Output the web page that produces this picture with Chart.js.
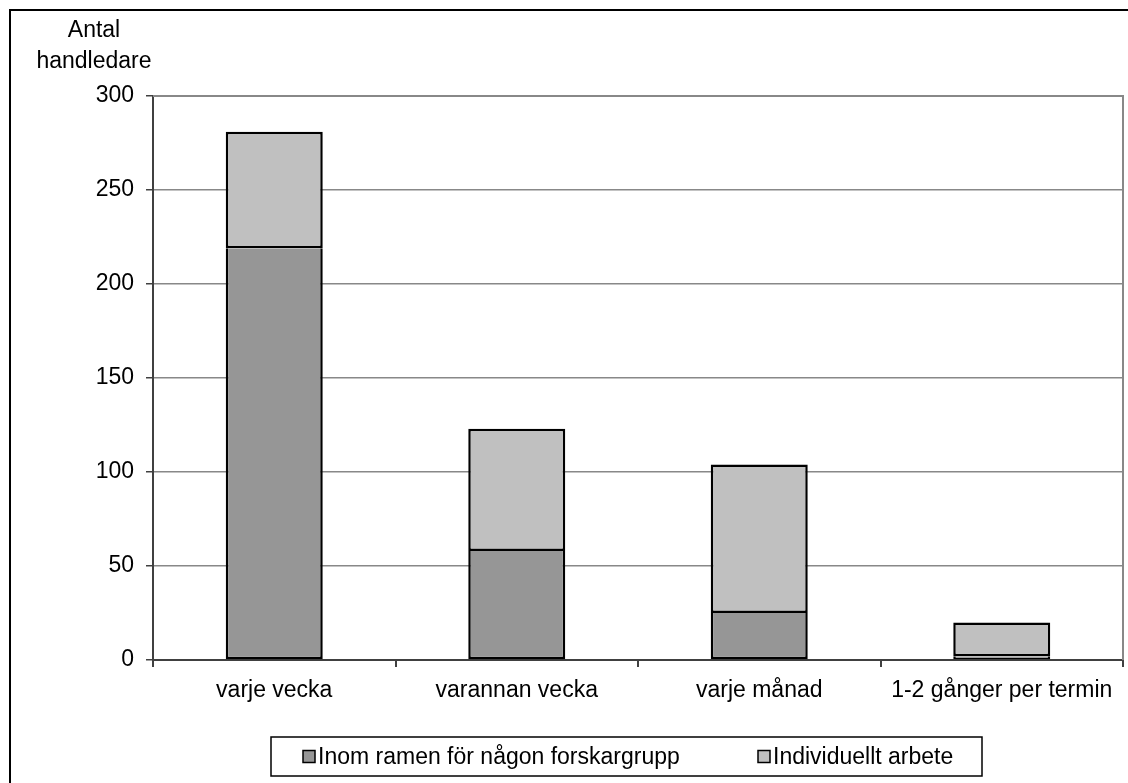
<!DOCTYPE html>
<html>
<head>
<meta charset="utf-8">
<script src="https://cdn.jsdelivr.net/npm/chart.js@4/dist/chart.umd.min.js"></script>
<style>
  html, body { margin: 0; padding: 0; background: #fff; }
  #wrap { position: absolute; left: 0; top: 0; width: 1128px; height: 783px; }
</style>
</head>
<body>
<div id="wrap"><canvas id="chart" width="1128" height="783"></canvas></div>
<script>
const categories = ["varje vecka", "varannan vecka", "varje månad", "1-2 gånger per termin"];
const forskargrupp = [219, 58, 25, 2];
const individuellt = [62, 65, 79, 18];
const seriesLabels = ["Inom ramen för någon forskargrupp", "Individuellt arbete"];
const yTitle = ["Antal", "handledare"];

const FONT = "'Liberation Sans', Arial, sans-serif";

// frame, plot border, y title and the boxed legend
const extras = {
  id: "extras",
  afterDraw(chart) {
    const ctx = chart.ctx;
    const a = chart.chartArea;
    ctx.save();

    // plot area top/right border
    ctx.strokeStyle = "#888";
    ctx.lineWidth = 2;
    ctx.beginPath();
    ctx.moveTo(a.left, a.top);
    ctx.lineTo(a.right, a.top);
    ctx.lineTo(a.right, a.bottom);
    ctx.stroke();

    // outer frame
    ctx.strokeStyle = "#000";
    ctx.lineWidth = 2;
    ctx.beginPath();
    ctx.moveTo(10, 783);
    ctx.lineTo(10, 10);
    ctx.lineTo(1128, 10);
    ctx.stroke();

    // axis title
    ctx.fillStyle = "#000";
    ctx.font = "23px " + FONT;
    ctx.textAlign = "center";
    ctx.textBaseline = "alphabetic";
    ctx.fillText(yTitle[0], 94, 37);
    ctx.fillText(yTitle[1], 94, 68);

    // legend
    const lx = 271, ly = 737, lw = 711, lh = 39;
    ctx.fillStyle = "#fff";
    ctx.fillRect(lx, ly, lw, lh);
    ctx.strokeStyle = "#000";
    ctx.lineWidth = 1.5;
    ctx.strokeRect(lx, ly, lw, lh);
    ctx.textAlign = "left";
    ctx.textBaseline = "middle";
    const starts = [303, 758];
    chart.data.datasets.forEach((ds, i) => {
      const x = starts[i];
      const cy = ly + lh / 2;
      ctx.fillStyle = ds.backgroundColor;
      ctx.fillRect(x, cy - 6, 12, 12);
      ctx.strokeStyle = "#000";
      ctx.lineWidth = 1.5;
      ctx.strokeRect(x, cy - 6, 12, 12);
      ctx.fillStyle = "#000";
      ctx.fillText(ds.label, x + 15, cy + 1);
    });
    ctx.restore();
  }
};

const ctx = document.getElementById("chart").getContext("2d");
new Chart(ctx, {
  type: "bar",
  data: {
    labels: categories,
    datasets: [
      {
        label: seriesLabels[0],
        data: forskargrupp,
        backgroundColor: "#969696",
        borderColor: "#000",
        borderWidth: 2.5,
        borderSkipped: "end",
        inflateAmount: 0
      },
      {
        label: seriesLabels[1],
        data: individuellt,
        backgroundColor: "#c0c0c0",
        borderColor: "#000",
        borderWidth: 2.5,
        borderSkipped: false,
        inflateAmount: 0
      }
    ]
  },
  options: {
    responsive: false,
    animation: false,
    layout: { padding: { left: 0, right: 5, top: 96, bottom: 0 } },
    categoryPercentage: 1,
    barPercentage: 0.4,
    plugins: {
      legend: { display: false },
      tooltip: { enabled: false }
    },
    scales: {
      x: {
        stacked: true,
        grid: {
          offset: true,
          drawOnChartArea: false,
          drawTicks: true,
          tickLength: 7,
          tickColor: "#404040",
          lineWidth: 2
        },
        border: { color: "#404040", width: 2 },
        ticks: {
          color: "#000",
          padding: 10,
          maxRotation: 0,
          font: { family: FONT, size: 23 }
        },
        afterFit(scale) { scale.height = 123; }
      },
      y: {
        stacked: true,
        min: 0,
        max: 300,
        grid: {
          color: "#888",
          lineWidth: 1.5,
          drawTicks: true,
          tickLength: 7,
          tickColor: "#404040"
        },
        border: { color: "#404040", width: 2 },
        ticks: {
          stepSize: 50,
          color: "#000",
          padding: 12,
          font: { family: FONT, size: 23 }
        },
        afterFit(scale) { scale.width = 153; }
      }
    }
  },
  plugins: [extras]
});
</script>
</body>
</html>
